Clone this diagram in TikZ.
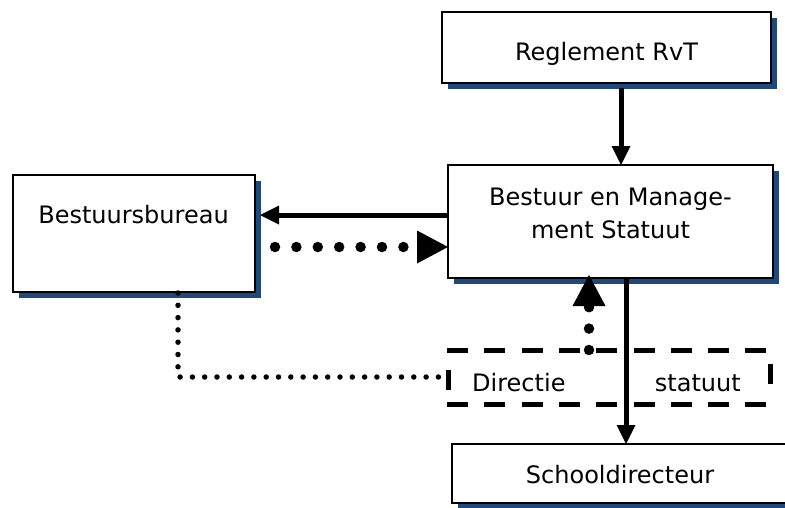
\documentclass[tikz,border=0pt]{standalone}
\usepackage{fontspec}
\setmainfont{DejaVu Sans}
\usetikzlibrary{arrows.meta,shadows}
\definecolor{shadowblue}{RGB}{31,73,125}
\begin{document}
\begin{tikzpicture}[x=1pt,y=-1pt,
  boxstyle/.style={draw=black, line width=2pt, fill=white, inner sep=0pt, outer sep=0pt,
     drop shadow={shadow xshift=5.5pt, shadow yshift=-5.5pt, fill=shadowblue, opacity=1}},
  lbl/.style={font=\fontsize{24}{33}\selectfont, inner sep=0pt, anchor=base, text=black},
  conn/.style={line width=5pt, -{Triangle[length=19pt,width=19pt,line width=0pt]}},
  bigdots/.style={line width=10.5pt, line cap=round, dash pattern=on 0pt off 21.4pt,
     -{Triangle[length=31pt,width=33pt,line width=0pt]}},
  smalldots/.style={line width=5.5pt, line cap=round, dash pattern=on 0pt off 12.3pt},
  dashside/.style={line width=5pt, dash pattern=on 21pt off 16.3pt},
]
\useasboundingbox (0,0) rectangle (785,507);

% boxes
\node[boxstyle, minimum width=329pt, minimum height=71pt] (reg) at (606.5,47.5) {};
\node[boxstyle, minimum width=242pt, minimum height=117pt] (bb) at (134,233.5) {};
\node[boxstyle, minimum width=325pt, minimum height=113pt] (bm) at (610.5,221.5) {};
\node[boxstyle, minimum width=338pt, minimum height=59pt] (school) at (621,473.5) {};
\node[minimum width=322pt, minimum height=54pt, inner sep=0pt, outer sep=0pt] (dir) at (609,377) {};

% texts
\node[lbl] (regt) at (606.5,60) {Reglement RvT};
\node[lbl] (bbt) at (133.5,223) {Bestuursbureau};
\node[lbl] (bmt1) at (610.5,205) {Bestuur en Manage-};
\node[lbl] (bmt2) at (610.5,238) {ment Statuut};
\node[lbl] (schoolt) at (620,483) {Schooldirecteur};
\node[lbl, anchor=base west] (dirt1) at (472,391) {Directie};
\node[lbl, anchor=base east] (dirt2) at (741,391) {statuut};

% dashed frame
\draw[dashside] ([xshift=-1pt]dir.north west) -- (dir.north east);
\draw[dashside] ([xshift=-1pt]dir.south west) -- (dir.south east);
\draw[line width=5pt] ([yshift=-20pt]dir.north west) -- ([yshift=-40pt]dir.north west);
\draw[line width=5pt] ([yshift=-14pt]dir.north east) -- ([yshift=-34pt]dir.north east);

% connectors
\coordinate (rstart) at (621,88);
\draw[conn] (rstart) -- (rstart |- bm.north);

\coordinate (bbtip) at (260,215);
\draw[conn] (bm.west |- bbtip) -- (bbtip);

\coordinate (dstart) at (275,247);
\draw[bigdots] (dstart) -- (dstart -| bm.west);

\coordinate (ustart) at (589,350);
\coordinate (utip) at (589,275);
\draw[bigdots] (ustart) -- (utip);

\coordinate (sstart) at (626,278);
\draw[conn] (sstart) -- (sstart |- school.north);

\coordinate (l0) at (178,293);
\coordinate (l1) at (178,377);
\draw[smalldots] (l0) -- (l1) -- ([xshift=-5pt]dir.west);
\end{tikzpicture}
\end{document}
